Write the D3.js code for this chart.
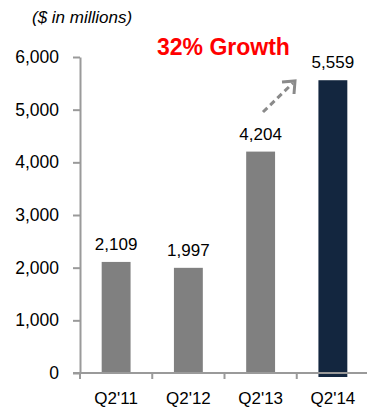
<!DOCTYPE html>
<html>
<head>
<meta charset="utf-8">
<script src="https://cdn.jsdelivr.net/npm/d3@7"></script>
<style>
  body { margin: 0; background: #fff; }
  text { font-family: "Liberation Sans", Arial, sans-serif; }
</style>
</head>
<body>
<svg id="mainsvg" width="369" height="408"></svg>
<script>
const categories = ["Q2'11", "Q2'12", "Q2'13", "Q2'14"]
const values = [2109, 1997, 4204, 5559]
const yTicks = [0, 1000, 2000, 3000, 4000, 5000, 6000]
const highlight = "Q2'14"

const svg = d3.select('#mainsvg')
const plotLeft = 80, plotRight = 369, plotTop = 57, plotBottom = 373
const axisColor = '#9a9a9a'

const x = d3.scaleBand().domain(categories).range([plotLeft, plotRight]).padding(0)
const y = d3.scaleLinear().domain([0, 6000]).range([plotBottom, plotTop])

// y axis
const yAxis = svg.append('g')
    .attr('transform', `translate(${plotLeft},0)`)
    .call(d3.axisLeft(y).tickValues(yTicks).tickFormat(d3.format(',')).tickSize(7).tickSizeOuter(0).tickPadding(14))
yAxis.select('.domain').attr('stroke', axisColor).attr('stroke-width', 2)
yAxis.selectAll('.tick line').attr('stroke', axisColor).attr('stroke-width', 2)
yAxis.selectAll('.tick text').attr('font-size', 17.5).attr('fill', '#000')
    .attr('font-family', '"Liberation Sans", Arial, sans-serif')

// bars
const barW = x.bandwidth() * 0.4
svg.append('g').selectAll('rect')
    .data(values)
    .join('rect')
    .attr('x', (d, i) => x(categories[i]) + (x.bandwidth() - barW) / 2)
    .attr('y', d => y(d))
    .attr('width', barW)
    .attr('height', (d, i) => plotBottom - y(d) + (categories[i] === highlight ? 4 : 0))
    .attr('fill', (d, i) => categories[i] === highlight ? '#13263f' : '#808080')

// x axis line + ticks between categories
svg.append('path')
    .attr('d', `M${plotLeft - 7},${plotBottom} L${plotRight - 2},${plotBottom}`)
    .attr('stroke', axisColor).attr('stroke-width', 2).attr('fill', 'none')
svg.append('g').selectAll('line')
    .data(categories)
    .join('line')
    .attr('x1', d => x(d)).attr('x2', d => x(d))
    .attr('y1', plotBottom).attr('y2', plotBottom + 6)
    .attr('stroke', axisColor).attr('stroke-width', 2)

// x labels
svg.append('g').selectAll('text')
    .data(categories)
    .join('text')
    .attr('x', d => x(d) + x.bandwidth() / 2)
    .attr('y', 404)
    .attr('text-anchor', 'middle')
    .attr('font-size', 17)
    .text(d => d)

// value labels
svg.append('g').selectAll('text')
    .data(values)
    .join('text')
    .attr('x', (d, i) => x(categories[i]) + x.bandwidth() / 2)
    .attr('y', d => y(d) - 12)
    .attr('text-anchor', 'middle')
    .attr('font-size', 17)
    .text(d => d3.format(',')(d))

// unit note
svg.append('text')
    .attr('x', 32).attr('y', 23)
    .attr('font-size', 17)
    .attr('font-style', 'italic')
    .text('($ in millions)')

// growth title
svg.append('text')
    .attr('x', 157).attr('y', 55)
    .attr('font-size', 23)
    .attr('font-weight', 'bold')
    .attr('fill', '#ff0000')
    .text('32% Growth')

// dashed growth arrow
const ax1 = 263, ay1 = 112, ax2 = 295, ay2 = 81
svg.append('path')
    .attr('d', `M${ax1},${ay1} L${ax2 - 2},${ay2 + 2}`)
    .attr('stroke', '#8a8a8a').attr('stroke-width', 3)
    .attr('stroke-dasharray', '6,4').attr('fill', 'none')
svg.append('path')
    .attr('d', `M${ax2 - 13},${ay2 + 1} L${ax2},${ay2} L${ax2 - 1},${ay2 + 13}`)
    .attr('stroke', '#8a8a8a').attr('stroke-width', 3)
    .attr('fill', 'none').attr('stroke-linejoin', 'miter')
</script>
</body>
</html>
